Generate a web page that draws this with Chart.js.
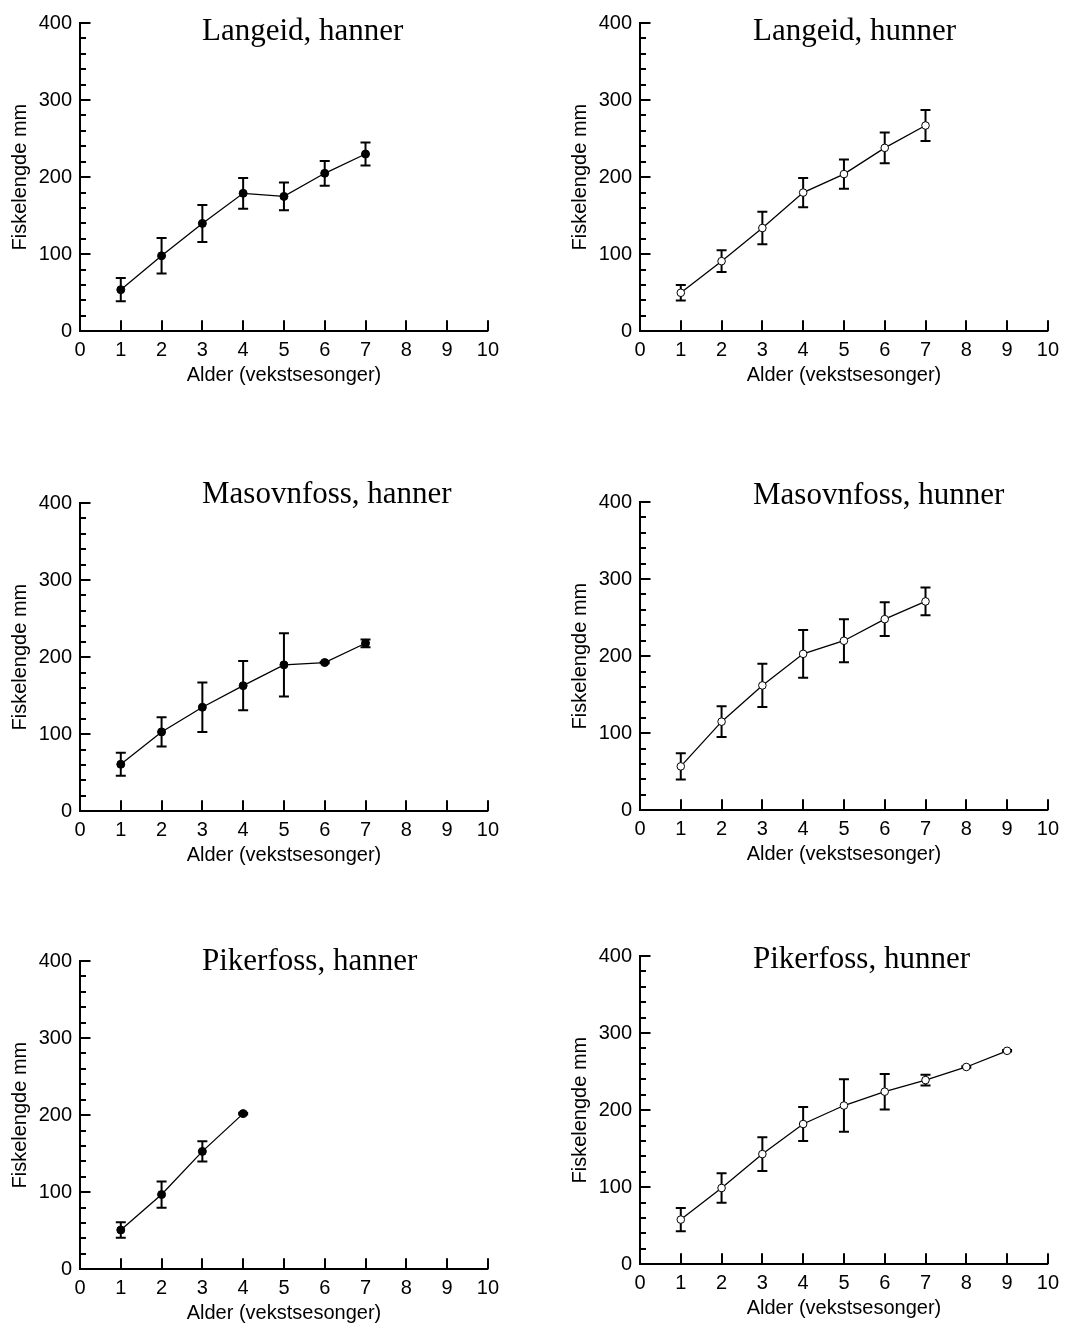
<!DOCTYPE html>
<html>
<head>
<meta charset="utf-8">
<script src="https://cdn.jsdelivr.net/npm/chart.js@4.4.1/dist/chart.umd.min.js"></script>
<style>
  html, body { margin: 0; padding: 0; background: #fff; overflow: hidden; }
  body { position: relative; width: 1066px; height: 1325px; }
  canvas { position: absolute; }
</style>
</head>
<body>
<canvas id="p1" width="506" height="409"></canvas>
<canvas id="p2" width="506" height="409"></canvas>
<canvas id="p3" width="506" height="409"></canvas>
<canvas id="p4" width="506" height="409"></canvas>
<canvas id="p5" width="506" height="409"></canvas>
<canvas id="p6" width="506" height="409"></canvas>
<script>
// ---- data ----
const xTicks = [0, 1, 2, 3, 4, 5, 6, 7, 8, 9, 10];
const yTicks = [0, 100, 200, 300, 400];
const yMinorTicks = [20, 40, 60, 80, 120, 140, 160, 180, 220, 240, 260, 280, 320, 340, 360, 380];

const langeidHannerAge = [1, 2, 3, 4, 5, 6, 7];
const langeidHannerMean = [54, 98, 140, 179, 175, 205, 230];
const langeidHannerSd = [15, 23, 24, 20, 18, 16, 15];

const langeidHunnerAge = [1, 2, 3, 4, 5, 6, 7];
const langeidHunnerMean = [50, 91, 134, 180, 204, 238, 267];
const langeidHunnerSd = [10, 14, 21, 19, 19, 20, 20];

const masovnfossHannerAge = [1, 2, 3, 4, 5, 6, 7];
const masovnfossHannerMean = [61, 103, 135, 163, 190, 193, 218];
const masovnfossHannerSd = [15, 19, 32, 32, 41, 1, 5];

const masovnfossHunnerAge = [1, 2, 3, 4, 5, 6, 7];
const masovnfossHunnerMean = [57, 115, 162, 203, 220, 248, 271];
const masovnfossHunnerSd = [17, 20, 28, 31, 28, 22, 18];

const pikerfossHannerAge = [1, 2, 3, 4];
const pikerfossHannerMean = [51, 97, 153, 202];
const pikerfossHannerSd = [10, 17, 13, 1];

const pikerfossHunnerAge = [1, 2, 3, 4, 5, 6, 7, 8, 9];
const pikerfossHunnerMean = [58, 99, 143, 182, 206, 224, 239, 256, 277];
const pikerfossHunnerSd = [15, 19, 22, 22, 34, 23, 7, 1, 1];

// ---- panel layout ----
const PLOT_W = 411.5, PLOT_H = 308.3;
const TOP_PAD = 40;
const panels = [
  { id: 'p1', title: 'Langeid, hanner', age: langeidHannerAge, mean: langeidHannerMean, sd: langeidHannerSd, open: false,
    left: 80, top: 22.7, titleX: 202, titleY: 39.3 },
  { id: 'p2', title: 'Langeid, hunner', age: langeidHunnerAge, mean: langeidHunnerMean, sd: langeidHunnerSd, open: true,
    left: 640, top: 22.7, titleX: 753, titleY: 39.3 },
  { id: 'p3', title: 'Masovnfoss, hanner', age: masovnfossHannerAge, mean: masovnfossHannerMean, sd: masovnfossHannerSd, open: false,
    left: 80, top: 503.3, titleX: 202, titleY: 503.3 },
  { id: 'p4', title: 'Masovnfoss, hunner', age: masovnfossHunnerAge, mean: masovnfossHunnerMean, sd: masovnfossHunnerSd, open: true,
    left: 640, top: 501.7, titleX: 753, titleY: 503.3 },
  { id: 'p5', title: 'Pikerfoss, hanner', age: pikerfossHannerAge, mean: pikerfossHannerMean, sd: pikerfossHannerSd, open: false,
    left: 80, top: 960.7, titleX: 202, titleY: 969.3 },
  { id: 'p6', title: 'Pikerfoss, hunner', age: pikerfossHunnerAge, mean: pikerfossHunnerMean, sd: pikerfossHunnerSd, open: true,
    left: 640, top: 956, titleX: 753, titleY: 968.3 }
];

const AXIS_FONT = { family: '"Liberation Sans", Arial, sans-serif', size: 20 };

// error bars behind the markers
const errorBars = {
  id: 'errorBars',
  beforeDatasetsDraw(chart) {
    const ctx = chart.ctx, xs = chart.scales.x, ys = chart.scales.y;
    const ds = chart.data.datasets[0];
    ctx.save();
    ctx.strokeStyle = '#000';
    ctx.lineWidth = 2;
    ds.data.forEach((p, i) => {
      const sd = ds.sd[i];
      const px = xs.getPixelForValue(p.x);
      const t = ys.getPixelForValue(p.y + sd);
      const b = ys.getPixelForValue(p.y - sd);
      ctx.beginPath();
      ctx.moveTo(px, t); ctx.lineTo(px, b);
      ctx.moveTo(px - 5, t); ctx.lineTo(px + 5, t);
      ctx.moveTo(px - 5, b); ctx.lineTo(px + 5, b);
      ctx.stroke();
    });
    ctx.restore();
  }
};

// inward tick marks and the panel title
const frame = {
  id: 'frame',
  afterDraw(chart, args, opts) {
    const ctx = chart.ctx, xs = chart.scales.x, ys = chart.scales.y;
    const a = chart.chartArea;
    ctx.save();
    ctx.strokeStyle = '#000';
    ctx.lineWidth = 2;
    ctx.beginPath();
    yTicks.forEach(v => {
      const py = Math.round(ys.getPixelForValue(v));
      ctx.moveTo(a.left, py); ctx.lineTo(a.left + 10.5, py);
    });
    yMinorTicks.forEach(v => {
      const py = Math.round(ys.getPixelForValue(v));
      ctx.moveTo(a.left, py); ctx.lineTo(a.left + 6, py);
    });
    xTicks.forEach(v => {
      const px = Math.round(xs.getPixelForValue(v));
      ctx.moveTo(px, a.bottom); ctx.lineTo(px, a.bottom - 11);
    });
    ctx.stroke();
    ctx.fillStyle = '#000';
    ctx.font = '31px "Liberation Serif", "Times New Roman", serif';
    ctx.textAlign = 'left';
    ctx.textBaseline = 'alphabetic';
    ctx.fillText(opts.text, opts.x, opts.y);
    ctx.restore();
  }
};

panels.forEach(p => {
  const canvas = document.getElementById(p.id);
  const cLeft = p.left - 80, cTop = p.top - TOP_PAD;
  canvas.style.left = cLeft + 'px';
  canvas.style.top = cTop + 'px';

  new Chart(canvas.getContext('2d'), {
    type: 'line',
    data: {
      datasets: [{
        data: p.age.map((a, i) => ({ x: a, y: p.mean[i] })),
        sd: p.sd,
        borderColor: '#000',
        borderWidth: 1.3,
        tension: 0,
        pointRadius: p.open ? 3.8 : 4,
        pointBorderWidth: 1,
        pointBorderColor: '#000',
        pointBackgroundColor: p.open ? '#fff' : '#000'
      }]
    },
    options: {
      responsive: false,
      animation: false,
      devicePixelRatio: 1,
      layout: { padding: { left: 0, right: 506 - 80 - PLOT_W, top: TOP_PAD, bottom: 409 - TOP_PAD - PLOT_H - 60 } },
      plugins: {
        legend: { display: false },
        tooltip: { enabled: false },
        frame: { text: p.title, x: p.titleX - cLeft, y: p.titleY - cTop }
      },
      scales: {
        x: {
          type: 'linear', min: 0, max: 10,
          afterFit: s => { s.height = 60; },
          afterBuildTicks: s => { s.ticks = xTicks.map(v => ({ value: v })); },
          ticks: { font: AXIS_FONT, color: '#000', padding: 7, maxRotation: 0, autoSkip: false },
          grid: { display: false, drawTicks: false },
          border: { display: true, color: '#000', width: 2 },
          title: { display: true, text: 'Alder (vekstsesonger)', font: AXIS_FONT, color: '#000', padding: { top: 0, bottom: 4 } }
        },
        y: {
          type: 'linear', min: 0, max: 400,
          afterFit: s => { s.width = 80; },
          afterBuildTicks: s => { s.ticks = yTicks.map(v => ({ value: v })); },
          ticks: { font: AXIS_FONT, color: '#000', padding: 8 },
          grid: { display: false, drawTicks: false },
          border: { display: true, color: '#000', width: 2 },
          title: { display: true, text: 'Fiskelengde mm', font: AXIS_FONT, color: '#000', padding: { top: 8, bottom: 0 } }
        }
      }
    },
    plugins: [errorBars, frame]
  });
});
</script>
</body>
</html>
